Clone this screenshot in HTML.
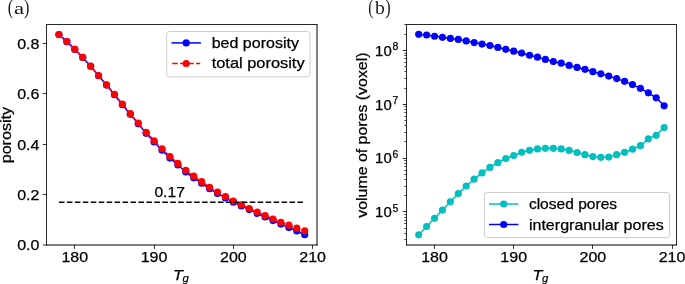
<!DOCTYPE html>
<html><head><meta charset="utf-8"><title>chart</title>
<style>html,body{margin:0;padding:0;background:#fff}svg{display:block;will-change:transform}</style></head>
<body>
<svg width="685" height="284" viewBox="0 0 685 284" font-family="'Liberation Sans', sans-serif">
<rect width="685" height="284" fill="#fff"/>
<polyline points="58.95,34.60 66.88,41.66 74.81,49.38 82.73,57.41 90.66,66.36 98.59,75.73 106.52,85.12 114.45,94.73 122.37,104.66 130.30,114.36 138.23,123.87 146.16,133.34 154.09,142.04 162.01,150.16 169.94,158.08 177.87,164.98 185.80,172.02 193.73,177.82 201.65,183.28 209.58,188.78 217.51,193.45 225.44,197.88 233.37,202.24 241.29,205.90 249.22,209.61 257.15,213.33 265.08,216.96 273.01,220.56 280.93,224.11 288.86,227.62 296.79,231.02 304.72,234.79" fill="none" stroke="#0000ff" stroke-width="1.5" stroke-linejoin="round" stroke-linecap="square"/>
<circle cx="58.95" cy="34.60" r="3.58" fill="#0000ff"/>
<circle cx="66.88" cy="41.66" r="3.58" fill="#0000ff"/>
<circle cx="74.81" cy="49.38" r="3.58" fill="#0000ff"/>
<circle cx="82.73" cy="57.41" r="3.58" fill="#0000ff"/>
<circle cx="90.66" cy="66.36" r="3.58" fill="#0000ff"/>
<circle cx="98.59" cy="75.73" r="3.58" fill="#0000ff"/>
<circle cx="106.52" cy="85.12" r="3.58" fill="#0000ff"/>
<circle cx="114.45" cy="94.73" r="3.58" fill="#0000ff"/>
<circle cx="122.37" cy="104.66" r="3.58" fill="#0000ff"/>
<circle cx="130.30" cy="114.36" r="3.58" fill="#0000ff"/>
<circle cx="138.23" cy="123.87" r="3.58" fill="#0000ff"/>
<circle cx="146.16" cy="133.34" r="3.58" fill="#0000ff"/>
<circle cx="154.09" cy="142.04" r="3.58" fill="#0000ff"/>
<circle cx="162.01" cy="150.16" r="3.58" fill="#0000ff"/>
<circle cx="169.94" cy="158.08" r="3.58" fill="#0000ff"/>
<circle cx="177.87" cy="164.98" r="3.58" fill="#0000ff"/>
<circle cx="185.80" cy="172.02" r="3.58" fill="#0000ff"/>
<circle cx="193.73" cy="177.82" r="3.58" fill="#0000ff"/>
<circle cx="201.65" cy="183.28" r="3.58" fill="#0000ff"/>
<circle cx="209.58" cy="188.78" r="3.58" fill="#0000ff"/>
<circle cx="217.51" cy="193.45" r="3.58" fill="#0000ff"/>
<circle cx="225.44" cy="197.88" r="3.58" fill="#0000ff"/>
<circle cx="233.37" cy="202.24" r="3.58" fill="#0000ff"/>
<circle cx="241.29" cy="205.90" r="3.58" fill="#0000ff"/>
<circle cx="249.22" cy="209.61" r="3.58" fill="#0000ff"/>
<circle cx="257.15" cy="213.33" r="3.58" fill="#0000ff"/>
<circle cx="265.08" cy="216.96" r="3.58" fill="#0000ff"/>
<circle cx="273.01" cy="220.56" r="3.58" fill="#0000ff"/>
<circle cx="280.93" cy="224.11" r="3.58" fill="#0000ff"/>
<circle cx="288.86" cy="227.62" r="3.58" fill="#0000ff"/>
<circle cx="296.79" cy="231.02" r="3.58" fill="#0000ff"/>
<circle cx="304.72" cy="234.79" r="3.58" fill="#0000ff"/>
<polyline points="58.95,34.56 66.88,41.60 74.81,49.30 82.73,57.30 90.66,66.20 98.59,75.50 106.52,84.80 114.45,94.30 122.37,104.10 130.30,113.65 138.23,123.00 146.16,132.30 154.09,140.85 162.01,148.80 169.94,156.60 177.87,163.40 185.80,170.40 193.73,176.20 201.65,181.70 209.58,187.30 217.51,192.10 225.44,196.65 233.37,201.10 241.29,204.80 249.22,208.50 257.15,212.10 265.08,215.60 273.01,219.00 280.93,222.30 288.86,225.20 296.79,228.20 304.72,230.85" fill="none" stroke="#ff0000" stroke-width="1.5" stroke-linejoin="round" stroke-linecap="butt" stroke-dasharray="5.55 2.4"/>
<circle cx="58.95" cy="34.56" r="3.58" fill="#ff0000"/>
<circle cx="66.88" cy="41.60" r="3.58" fill="#ff0000"/>
<circle cx="74.81" cy="49.30" r="3.58" fill="#ff0000"/>
<circle cx="82.73" cy="57.30" r="3.58" fill="#ff0000"/>
<circle cx="90.66" cy="66.20" r="3.58" fill="#ff0000"/>
<circle cx="98.59" cy="75.50" r="3.58" fill="#ff0000"/>
<circle cx="106.52" cy="84.80" r="3.58" fill="#ff0000"/>
<circle cx="114.45" cy="94.30" r="3.58" fill="#ff0000"/>
<circle cx="122.37" cy="104.10" r="3.58" fill="#ff0000"/>
<circle cx="130.30" cy="113.65" r="3.58" fill="#ff0000"/>
<circle cx="138.23" cy="123.00" r="3.58" fill="#ff0000"/>
<circle cx="146.16" cy="132.30" r="3.58" fill="#ff0000"/>
<circle cx="154.09" cy="140.85" r="3.58" fill="#ff0000"/>
<circle cx="162.01" cy="148.80" r="3.58" fill="#ff0000"/>
<circle cx="169.94" cy="156.60" r="3.58" fill="#ff0000"/>
<circle cx="177.87" cy="163.40" r="3.58" fill="#ff0000"/>
<circle cx="185.80" cy="170.40" r="3.58" fill="#ff0000"/>
<circle cx="193.73" cy="176.20" r="3.58" fill="#ff0000"/>
<circle cx="201.65" cy="181.70" r="3.58" fill="#ff0000"/>
<circle cx="209.58" cy="187.30" r="3.58" fill="#ff0000"/>
<circle cx="217.51" cy="192.10" r="3.58" fill="#ff0000"/>
<circle cx="225.44" cy="196.65" r="3.58" fill="#ff0000"/>
<circle cx="233.37" cy="201.10" r="3.58" fill="#ff0000"/>
<circle cx="241.29" cy="204.80" r="3.58" fill="#ff0000"/>
<circle cx="249.22" cy="208.50" r="3.58" fill="#ff0000"/>
<circle cx="257.15" cy="212.10" r="3.58" fill="#ff0000"/>
<circle cx="265.08" cy="215.60" r="3.58" fill="#ff0000"/>
<circle cx="273.01" cy="219.00" r="3.58" fill="#ff0000"/>
<circle cx="280.93" cy="222.30" r="3.58" fill="#ff0000"/>
<circle cx="288.86" cy="225.20" r="3.58" fill="#ff0000"/>
<circle cx="296.79" cy="228.20" r="3.58" fill="#ff0000"/>
<circle cx="304.72" cy="230.85" r="3.58" fill="#ff0000"/>
<line x1="58.95" y1="202.21" x2="304.72" y2="202.21" stroke="#000" stroke-width="1.5" stroke-dasharray="5.55 2.4"/>
<path d="M46.5 24.1V245.5M46.1 24.5H317.4" fill="none" stroke="#000" stroke-width="0.85"/>
<path d="M317.0 24.1V245.5" fill="none" stroke="#000" stroke-width="1.0"/>
<path d="M46.1 245.0H317.45" fill="none" stroke="#000" stroke-width="1.0"/>
<line x1="74.50" y1="245.0" x2="74.50" y2="248.9" stroke="#000" stroke-width="0.8"/>
<text x="61.44" y="262.40" font-size="14.80" textLength="26.72" lengthAdjust="spacingAndGlyphs" fill="#000" stroke="#000" stroke-width="0.25">180</text>
<line x1="154.50" y1="245.0" x2="154.50" y2="248.9" stroke="#000" stroke-width="0.8"/>
<text x="140.72" y="262.40" font-size="14.80" textLength="26.72" lengthAdjust="spacingAndGlyphs" fill="#000" stroke="#000" stroke-width="0.25">190</text>
<line x1="233.50" y1="245.0" x2="233.50" y2="248.9" stroke="#000" stroke-width="0.8"/>
<text x="220.00" y="262.40" font-size="14.80" textLength="26.72" lengthAdjust="spacingAndGlyphs" fill="#000" stroke="#000" stroke-width="0.25">200</text>
<line x1="312.50" y1="245.0" x2="312.50" y2="248.9" stroke="#000" stroke-width="0.8"/>
<text x="299.28" y="262.40" font-size="14.80" textLength="26.72" lengthAdjust="spacingAndGlyphs" fill="#000" stroke="#000" stroke-width="0.25">210</text>
<line x1="42.8" y1="245.00" x2="46.5" y2="245.00" stroke="#000" stroke-width="0.8"/>
<text x="17.23" y="250.30" font-size="14.80" textLength="22.27" lengthAdjust="spacingAndGlyphs" fill="#000" stroke="#000" stroke-width="0.25">0.0</text>
<line x1="42.8" y1="194.50" x2="46.5" y2="194.50" stroke="#000" stroke-width="0.8"/>
<text x="17.23" y="199.90" font-size="14.80" textLength="22.27" lengthAdjust="spacingAndGlyphs" fill="#000" stroke="#000" stroke-width="0.25">0.2</text>
<line x1="42.8" y1="144.50" x2="46.5" y2="144.50" stroke="#000" stroke-width="0.8"/>
<text x="17.23" y="149.50" font-size="14.80" textLength="22.27" lengthAdjust="spacingAndGlyphs" fill="#000" stroke="#000" stroke-width="0.25">0.4</text>
<line x1="42.8" y1="93.50" x2="46.5" y2="93.50" stroke="#000" stroke-width="0.8"/>
<text x="17.23" y="99.10" font-size="14.80" textLength="22.27" lengthAdjust="spacingAndGlyphs" fill="#000" stroke="#000" stroke-width="0.25">0.6</text>
<line x1="42.8" y1="43.50" x2="46.5" y2="43.50" stroke="#000" stroke-width="0.8"/>
<text x="17.23" y="48.70" font-size="14.80" textLength="22.27" lengthAdjust="spacingAndGlyphs" fill="#000" stroke="#000" stroke-width="0.25">0.8</text>
<text x="154.40" y="197.20" font-size="14.80" textLength="30.47" lengthAdjust="spacingAndGlyphs" fill="#000" stroke="#000" stroke-width="0.25">0.17</text>
<text x="-17.61" y="135.10" font-size="14.80" textLength="56.42" lengthAdjust="spacingAndGlyphs" transform="rotate(-90 10.60 135.10)" fill="#000" stroke="#000" stroke-width="0.25">porosity</text>
<text x="173.00" y="279.7" font-size="15.5" font-style="italic" textLength="9.9" lengthAdjust="spacingAndGlyphs" stroke="#000" stroke-width="0.25">T</text>
<text x="182.50" y="282.0" font-size="10.36" font-style="italic" textLength="6.3" lengthAdjust="spacingAndGlyphs" stroke="#000" stroke-width="0.2">g</text>
<rect x="166.7" y="31.5" width="143.3" height="45.3" rx="2.8" ry="2.8" fill="#fff" fill-opacity="0.8" stroke="#ccc" stroke-width="1"/>
<line x1="172.20" y1="42.9" x2="200.20" y2="42.9" stroke="#0000ff" stroke-width="1.5" stroke-linecap="square"/>
<circle cx="186.20" cy="42.9" r="3.58" fill="#0000ff"/>
<text x="211.70" y="47.60" font-size="14.80" textLength="87.26" lengthAdjust="spacingAndGlyphs" fill="#000" stroke="#000" stroke-width="0.25">bed porosity</text>
<line x1="172.20" y1="63.5" x2="200.20" y2="63.5" stroke="#ff0000" stroke-width="1.5" stroke-linecap="butt" stroke-dasharray="5.55 2.4"/>
<circle cx="186.20" cy="63.5" r="3.58" fill="#ff0000"/>
<text x="211.70" y="67.90" font-size="14.80" textLength="92.89" lengthAdjust="spacingAndGlyphs" fill="#000" stroke="#000" stroke-width="0.25">total porosity</text>
<text transform="translate(7.65 14.03) scale(0.779 1)" font-family="'Liberation Serif', serif" font-size="21.05" fill="#1a1a1a">(</text>
<text transform="translate(13.90 13.74) scale(1.429 1)" font-family="'Liberation Serif', serif" font-size="16.04" fill="#1a1a1a">a</text>
<text transform="translate(23.95 14.03) scale(0.764 1)" font-family="'Liberation Serif', serif" font-size="21.05" fill="#1a1a1a">)</text>
<polyline points="418.70,234.80 426.62,226.50 434.54,218.30 442.45,210.05 450.37,201.80 458.29,193.60 466.21,186.00 474.13,179.20 482.04,172.90 489.96,167.40 497.88,162.67 505.80,158.50 513.72,155.50 521.63,152.30 529.55,150.30 537.47,148.90 545.39,148.30 553.31,148.30 561.22,148.90 569.14,150.40 577.06,152.50 584.98,154.70 592.90,156.55 600.81,157.35 608.73,157.05 616.65,154.70 624.57,152.30 632.49,149.20 640.40,145.70 648.32,138.90 656.24,135.30 664.16,127.50" fill="none" stroke="#00bfbf" stroke-width="1.5" stroke-linejoin="round" stroke-linecap="square"/>
<circle cx="418.70" cy="234.80" r="3.58" fill="#00bfbf"/>
<circle cx="426.62" cy="226.50" r="3.58" fill="#00bfbf"/>
<circle cx="434.54" cy="218.30" r="3.58" fill="#00bfbf"/>
<circle cx="442.45" cy="210.05" r="3.58" fill="#00bfbf"/>
<circle cx="450.37" cy="201.80" r="3.58" fill="#00bfbf"/>
<circle cx="458.29" cy="193.60" r="3.58" fill="#00bfbf"/>
<circle cx="466.21" cy="186.00" r="3.58" fill="#00bfbf"/>
<circle cx="474.13" cy="179.20" r="3.58" fill="#00bfbf"/>
<circle cx="482.04" cy="172.90" r="3.58" fill="#00bfbf"/>
<circle cx="489.96" cy="167.40" r="3.58" fill="#00bfbf"/>
<circle cx="497.88" cy="162.67" r="3.58" fill="#00bfbf"/>
<circle cx="505.80" cy="158.50" r="3.58" fill="#00bfbf"/>
<circle cx="513.72" cy="155.50" r="3.58" fill="#00bfbf"/>
<circle cx="521.63" cy="152.30" r="3.58" fill="#00bfbf"/>
<circle cx="529.55" cy="150.30" r="3.58" fill="#00bfbf"/>
<circle cx="537.47" cy="148.90" r="3.58" fill="#00bfbf"/>
<circle cx="545.39" cy="148.30" r="3.58" fill="#00bfbf"/>
<circle cx="553.31" cy="148.30" r="3.58" fill="#00bfbf"/>
<circle cx="561.22" cy="148.90" r="3.58" fill="#00bfbf"/>
<circle cx="569.14" cy="150.40" r="3.58" fill="#00bfbf"/>
<circle cx="577.06" cy="152.50" r="3.58" fill="#00bfbf"/>
<circle cx="584.98" cy="154.70" r="3.58" fill="#00bfbf"/>
<circle cx="592.90" cy="156.55" r="3.58" fill="#00bfbf"/>
<circle cx="600.81" cy="157.35" r="3.58" fill="#00bfbf"/>
<circle cx="608.73" cy="157.05" r="3.58" fill="#00bfbf"/>
<circle cx="616.65" cy="154.70" r="3.58" fill="#00bfbf"/>
<circle cx="624.57" cy="152.30" r="3.58" fill="#00bfbf"/>
<circle cx="632.49" cy="149.20" r="3.58" fill="#00bfbf"/>
<circle cx="640.40" cy="145.70" r="3.58" fill="#00bfbf"/>
<circle cx="648.32" cy="138.90" r="3.58" fill="#00bfbf"/>
<circle cx="656.24" cy="135.30" r="3.58" fill="#00bfbf"/>
<circle cx="664.16" cy="127.50" r="3.58" fill="#00bfbf"/>
<polyline points="418.70,34.35 426.62,35.00 434.54,36.25 442.45,37.30 450.37,38.40 458.29,39.40 466.21,40.90 474.13,42.60 482.04,44.10 489.96,45.50 497.88,47.40 505.80,49.30 513.72,51.20 521.63,53.10 529.55,55.25 537.47,57.15 545.39,59.40 553.31,61.50 561.22,63.20 569.14,65.40 577.06,67.40 584.98,69.30 592.90,71.70 600.81,73.85 608.73,76.05 616.65,78.60 624.57,81.35 632.49,84.60 640.40,88.35 648.32,92.85 656.24,97.80 664.16,105.80" fill="none" stroke="#0000ff" stroke-width="1.5" stroke-linejoin="round" stroke-linecap="square"/>
<circle cx="418.70" cy="34.35" r="3.58" fill="#0000ff"/>
<circle cx="426.62" cy="35.00" r="3.58" fill="#0000ff"/>
<circle cx="434.54" cy="36.25" r="3.58" fill="#0000ff"/>
<circle cx="442.45" cy="37.30" r="3.58" fill="#0000ff"/>
<circle cx="450.37" cy="38.40" r="3.58" fill="#0000ff"/>
<circle cx="458.29" cy="39.40" r="3.58" fill="#0000ff"/>
<circle cx="466.21" cy="40.90" r="3.58" fill="#0000ff"/>
<circle cx="474.13" cy="42.60" r="3.58" fill="#0000ff"/>
<circle cx="482.04" cy="44.10" r="3.58" fill="#0000ff"/>
<circle cx="489.96" cy="45.50" r="3.58" fill="#0000ff"/>
<circle cx="497.88" cy="47.40" r="3.58" fill="#0000ff"/>
<circle cx="505.80" cy="49.30" r="3.58" fill="#0000ff"/>
<circle cx="513.72" cy="51.20" r="3.58" fill="#0000ff"/>
<circle cx="521.63" cy="53.10" r="3.58" fill="#0000ff"/>
<circle cx="529.55" cy="55.25" r="3.58" fill="#0000ff"/>
<circle cx="537.47" cy="57.15" r="3.58" fill="#0000ff"/>
<circle cx="545.39" cy="59.40" r="3.58" fill="#0000ff"/>
<circle cx="553.31" cy="61.50" r="3.58" fill="#0000ff"/>
<circle cx="561.22" cy="63.20" r="3.58" fill="#0000ff"/>
<circle cx="569.14" cy="65.40" r="3.58" fill="#0000ff"/>
<circle cx="577.06" cy="67.40" r="3.58" fill="#0000ff"/>
<circle cx="584.98" cy="69.30" r="3.58" fill="#0000ff"/>
<circle cx="592.90" cy="71.70" r="3.58" fill="#0000ff"/>
<circle cx="600.81" cy="73.85" r="3.58" fill="#0000ff"/>
<circle cx="608.73" cy="76.05" r="3.58" fill="#0000ff"/>
<circle cx="616.65" cy="78.60" r="3.58" fill="#0000ff"/>
<circle cx="624.57" cy="81.35" r="3.58" fill="#0000ff"/>
<circle cx="632.49" cy="84.60" r="3.58" fill="#0000ff"/>
<circle cx="640.40" cy="88.35" r="3.58" fill="#0000ff"/>
<circle cx="648.32" cy="92.85" r="3.58" fill="#0000ff"/>
<circle cx="656.24" cy="97.80" r="3.58" fill="#0000ff"/>
<circle cx="664.16" cy="105.80" r="3.58" fill="#0000ff"/>
<path d="M406.5 24.1V245.5M406.1 24.5H676.9" fill="none" stroke="#000" stroke-width="0.85"/>
<path d="M676.5 24.1V245.5" fill="none" stroke="#000" stroke-width="0.85"/>
<path d="M406.1 245.0H676.95" fill="none" stroke="#000" stroke-width="1.0"/>
<line x1="434.50" y1="245.0" x2="434.50" y2="248.9" stroke="#000" stroke-width="0.8"/>
<text x="421.17" y="262.40" font-size="14.80" textLength="26.72" lengthAdjust="spacingAndGlyphs" fill="#000" stroke="#000" stroke-width="0.25">180</text>
<line x1="513.50" y1="245.0" x2="513.50" y2="248.9" stroke="#000" stroke-width="0.8"/>
<text x="500.35" y="262.40" font-size="14.80" textLength="26.72" lengthAdjust="spacingAndGlyphs" fill="#000" stroke="#000" stroke-width="0.25">190</text>
<line x1="592.50" y1="245.0" x2="592.50" y2="248.9" stroke="#000" stroke-width="0.8"/>
<text x="579.53" y="262.40" font-size="14.80" textLength="26.72" lengthAdjust="spacingAndGlyphs" fill="#000" stroke="#000" stroke-width="0.25">200</text>
<line x1="672.50" y1="245.0" x2="672.50" y2="248.9" stroke="#000" stroke-width="0.8"/>
<text x="658.71" y="262.40" font-size="14.80" textLength="26.72" lengthAdjust="spacingAndGlyphs" fill="#000" stroke="#000" stroke-width="0.25">210</text>
<line x1="404.3" y1="239.50" x2="406.5" y2="239.50" stroke="#000" stroke-width="0.7"/>
<line x1="404.3" y1="233.50" x2="406.5" y2="233.50" stroke="#000" stroke-width="0.7"/>
<line x1="404.3" y1="228.50" x2="406.5" y2="228.50" stroke="#000" stroke-width="0.7"/>
<line x1="404.3" y1="223.50" x2="406.5" y2="223.50" stroke="#000" stroke-width="0.7"/>
<line x1="404.3" y1="220.50" x2="406.5" y2="220.50" stroke="#000" stroke-width="0.7"/>
<line x1="404.3" y1="217.50" x2="406.5" y2="217.50" stroke="#000" stroke-width="0.7"/>
<line x1="404.3" y1="214.50" x2="406.5" y2="214.50" stroke="#000" stroke-width="0.7"/>
<line x1="402.8" y1="211.50" x2="406.5" y2="211.50" stroke="#000" stroke-width="0.85"/>
<text x="375.10" y="217.15" font-size="14.80" textLength="16.60" lengthAdjust="spacingAndGlyphs" fill="#000" stroke="#000" stroke-width="0.25">10</text>
<text x="392.60" y="211.70" font-size="10.15" textLength="5.80" lengthAdjust="spacingAndGlyphs" fill="#000" stroke="#000" stroke-width="0.25">5</text>
<line x1="404.3" y1="195.50" x2="406.5" y2="195.50" stroke="#000" stroke-width="0.7"/>
<line x1="404.3" y1="186.50" x2="406.5" y2="186.50" stroke="#000" stroke-width="0.7"/>
<line x1="404.3" y1="179.50" x2="406.5" y2="179.50" stroke="#000" stroke-width="0.7"/>
<line x1="404.3" y1="174.50" x2="406.5" y2="174.50" stroke="#000" stroke-width="0.7"/>
<line x1="404.3" y1="170.50" x2="406.5" y2="170.50" stroke="#000" stroke-width="0.7"/>
<line x1="404.3" y1="166.50" x2="406.5" y2="166.50" stroke="#000" stroke-width="0.7"/>
<line x1="404.3" y1="163.50" x2="406.5" y2="163.50" stroke="#000" stroke-width="0.7"/>
<line x1="404.3" y1="160.50" x2="406.5" y2="160.50" stroke="#000" stroke-width="0.7"/>
<line x1="402.8" y1="158.50" x2="406.5" y2="158.50" stroke="#000" stroke-width="0.85"/>
<text x="375.10" y="163.40" font-size="14.80" textLength="16.60" lengthAdjust="spacingAndGlyphs" fill="#000" stroke="#000" stroke-width="0.25">10</text>
<text x="392.60" y="157.95" font-size="10.15" textLength="5.80" lengthAdjust="spacingAndGlyphs" fill="#000" stroke="#000" stroke-width="0.25">6</text>
<line x1="404.3" y1="141.50" x2="406.5" y2="141.50" stroke="#000" stroke-width="0.7"/>
<line x1="404.3" y1="132.50" x2="406.5" y2="132.50" stroke="#000" stroke-width="0.7"/>
<line x1="404.3" y1="125.50" x2="406.5" y2="125.50" stroke="#000" stroke-width="0.7"/>
<line x1="404.3" y1="120.50" x2="406.5" y2="120.50" stroke="#000" stroke-width="0.7"/>
<line x1="404.3" y1="116.50" x2="406.5" y2="116.50" stroke="#000" stroke-width="0.7"/>
<line x1="404.3" y1="112.50" x2="406.5" y2="112.50" stroke="#000" stroke-width="0.7"/>
<line x1="404.3" y1="109.50" x2="406.5" y2="109.50" stroke="#000" stroke-width="0.7"/>
<line x1="404.3" y1="106.50" x2="406.5" y2="106.50" stroke="#000" stroke-width="0.7"/>
<line x1="402.8" y1="104.50" x2="406.5" y2="104.50" stroke="#000" stroke-width="0.85"/>
<text x="375.10" y="109.65" font-size="14.80" textLength="16.60" lengthAdjust="spacingAndGlyphs" fill="#000" stroke="#000" stroke-width="0.25">10</text>
<text x="392.60" y="104.20" font-size="10.15" textLength="5.80" lengthAdjust="spacingAndGlyphs" fill="#000" stroke="#000" stroke-width="0.25">7</text>
<line x1="404.3" y1="88.50" x2="406.5" y2="88.50" stroke="#000" stroke-width="0.7"/>
<line x1="404.3" y1="78.50" x2="406.5" y2="78.50" stroke="#000" stroke-width="0.7"/>
<line x1="404.3" y1="71.50" x2="406.5" y2="71.50" stroke="#000" stroke-width="0.7"/>
<line x1="404.3" y1="66.50" x2="406.5" y2="66.50" stroke="#000" stroke-width="0.7"/>
<line x1="404.3" y1="62.50" x2="406.5" y2="62.50" stroke="#000" stroke-width="0.7"/>
<line x1="404.3" y1="58.50" x2="406.5" y2="58.50" stroke="#000" stroke-width="0.7"/>
<line x1="404.3" y1="55.50" x2="406.5" y2="55.50" stroke="#000" stroke-width="0.7"/>
<line x1="404.3" y1="53.50" x2="406.5" y2="53.50" stroke="#000" stroke-width="0.7"/>
<line x1="402.8" y1="50.50" x2="406.5" y2="50.50" stroke="#000" stroke-width="0.85"/>
<text x="375.10" y="55.90" font-size="14.80" textLength="16.60" lengthAdjust="spacingAndGlyphs" fill="#000" stroke="#000" stroke-width="0.25">10</text>
<text x="392.60" y="50.45" font-size="10.15" textLength="5.80" lengthAdjust="spacingAndGlyphs" fill="#000" stroke="#000" stroke-width="0.25">8</text>
<line x1="404.3" y1="34.50" x2="406.5" y2="34.50" stroke="#000" stroke-width="0.7"/>
<line x1="404.3" y1="24.50" x2="406.5" y2="24.50" stroke="#000" stroke-width="0.7"/>
<text x="284.49" y="135.10" font-size="14.80" textLength="165.22" lengthAdjust="spacingAndGlyphs" transform="rotate(-90 367.10 135.10)" fill="#000" stroke="#000" stroke-width="0.25">volume of pores (voxel)</text>
<text x="532.50" y="279.7" font-size="15.5" font-style="italic" textLength="9.9" lengthAdjust="spacingAndGlyphs" stroke="#000" stroke-width="0.25">T</text>
<text x="542.00" y="282.0" font-size="10.36" font-style="italic" textLength="6.3" lengthAdjust="spacingAndGlyphs" stroke="#000" stroke-width="0.2">g</text>
<rect x="484.4" y="192.5" width="185.20000000000005" height="45.099999999999994" rx="2.8" ry="2.8" fill="#fff" fill-opacity="0.8" stroke="#ccc" stroke-width="1"/>
<line x1="489.70" y1="204.0" x2="517.70" y2="204.0" stroke="#00bfbf" stroke-width="1.5" stroke-linecap="square"/>
<circle cx="503.70" cy="204.0" r="3.58" fill="#00bfbf"/>
<text x="528.90" y="208.90" font-size="14.80" textLength="88.21" lengthAdjust="spacingAndGlyphs" fill="#000" stroke="#000" stroke-width="0.25">closed pores</text>
<line x1="489.70" y1="224.5" x2="517.70" y2="224.5" stroke="#0000ff" stroke-width="1.5" stroke-linecap="square"/>
<circle cx="503.70" cy="224.5" r="3.58" fill="#0000ff"/>
<text x="528.90" y="229.70" font-size="14.80" textLength="134.83" lengthAdjust="spacingAndGlyphs" fill="#000" stroke="#000" stroke-width="0.25">intergranular pores</text>
<text transform="translate(368.15 13.95) scale(0.733 1)" font-family="'Liberation Serif', serif" font-size="20.94" fill="#1a1a1a">(</text>
<text transform="translate(375.10 13.72) scale(1.077 1)" font-family="'Liberation Serif', serif" font-size="18.30" fill="#1a1a1a">b</text>
<text transform="translate(385.20 13.95) scale(0.783 1)" font-family="'Liberation Serif', serif" font-size="20.94" fill="#1a1a1a">)</text>
</svg>
</body></html>
